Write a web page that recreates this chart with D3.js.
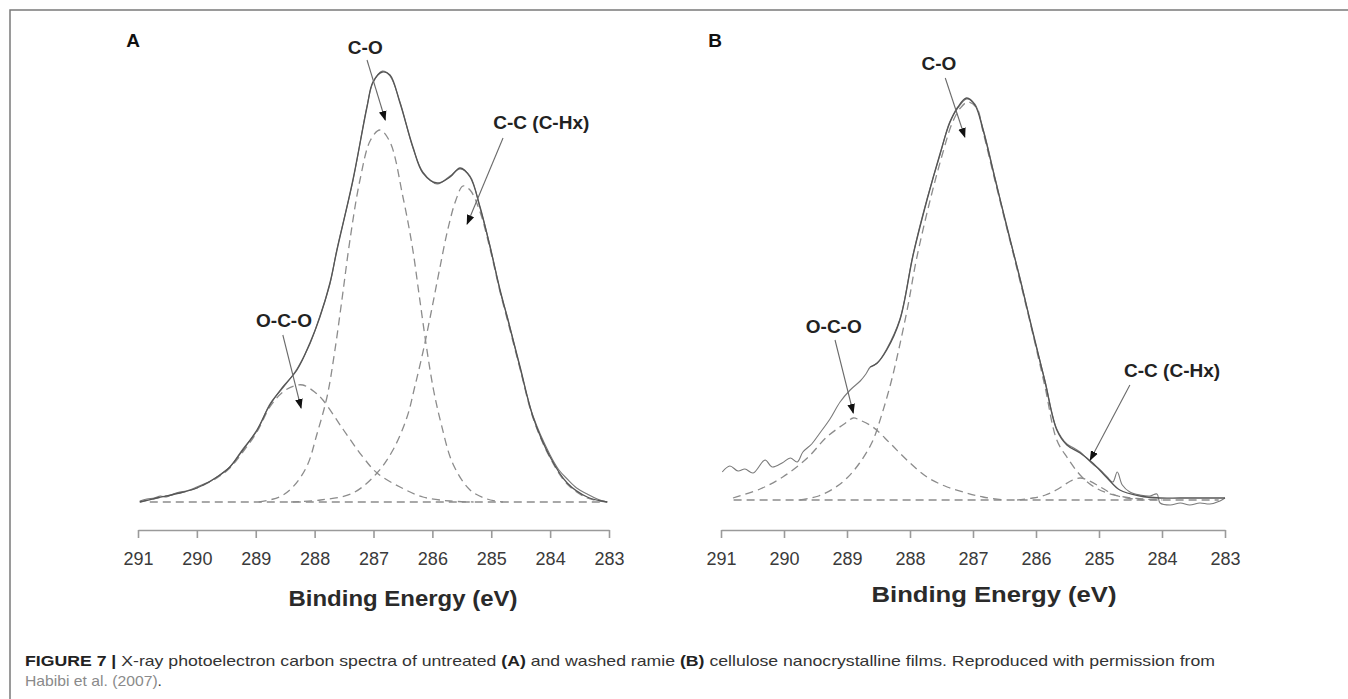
<!DOCTYPE html>
<html>
<head>
<meta charset="utf-8">
<script src="https://cdn.jsdelivr.net/npm/d3@7"></script>
<style>
  body { margin: 0; background: #fff; }
  svg { display: block; font-family: "Liberation Sans", Arial, Helvetica, sans-serif; }
</style>
</head>
<body>
<svg id="fig" width="1348" height="699"></svg>
<script>
// ---- Binding energy axis (eV) ----
const energyTicks = [291, 290, 289, 288, 287, 286, 285, 284, 283];

// ---- Panel A: untreated ramie, C1s spectrum [binding energy (eV), intensity (a.u.)] ----
const aRaw = [
  [290.97, 1], [290.85, 3], [290.72, 4], [290.62, 6], [290.52, 5], [290.40, 8], [290.29, 10],
  [290.18, 11], [290.08, 13], [290.0, 15], [289.88, 18], [289.76, 21], [289.66, 25], [289.44, 35],
  [289.22, 53], [288.98, 71], [288.76, 98], [288.54, 114], [288.30, 133], [288.08, 158], [287.91, 186],
  [287.74, 218], [287.62, 253], [287.35, 321], [287.11, 396], [287.01, 419], [286.85, 431], [286.72, 426],
  [286.55, 400], [286.33, 354], [286.16, 330], [285.92, 318], [285.70, 326], [285.53, 333], [285.36, 326],
  [285.19, 294], [285.02, 256], [284.85, 211], [284.73, 186], [284.51, 134], [284.29, 86], [284.0, 47],
  [283.85, 32], [283.71, 23], [283.55, 14], [283.37, 8], [283.2, 3], [283.03, 0]
];
const aEnvelope = [
  [290.97, 0], [290.68, 4], [290.29, 9], [290.0, 14], [289.66, 25], [289.44, 35], [289.22, 52],
  [288.98, 72], [288.76, 97], [288.54, 115], [288.30, 132], [288.08, 159], [287.91, 185], [287.74, 219],
  [287.62, 252], [287.35, 322], [287.11, 395], [287.01, 420], [286.85, 430], [286.72, 427], [286.55, 399],
  [286.33, 355], [286.16, 329], [285.92, 319], [285.70, 325], [285.53, 334], [285.36, 325], [285.19, 295],
  [285.02, 255], [284.85, 212], [284.73, 185], [284.51, 135], [284.29, 85], [284.0, 45], [283.71, 19],
  [283.37, 5], [283.03, 0]
];
const aOCO = [
  [290.97, 0], [290.68, 4], [290.29, 9], [290.0, 14], [289.66, 24], [289.44, 34], [289.22, 50],
  [288.98, 70], [288.76, 95], [288.54, 110], [288.35, 116], [288.20, 117], [288.0, 110], [287.86, 102],
  [287.52, 73], [287.18, 45], [286.94, 29], [286.55, 15], [286.16, 5], [285.70, 1], [285.3, 0]
];
const aCO = [
  [288.95, 0], [288.6, 5], [288.37, 15], [288.13, 36], [287.96, 68], [287.79, 105], [287.66, 150],
  [287.53, 205], [287.40, 262], [287.23, 322], [287.05, 362], [286.89, 372], [286.72, 360], [286.50, 305],
  [286.34, 255], [286.22, 205], [286.10, 155], [285.98, 112], [285.85, 78], [285.65, 38], [285.36, 12],
  [285.07, 3], [284.8, 0]
];
const aCC = [
  [288.4, 0], [287.9, 2], [287.35, 9], [286.94, 29], [286.67, 52], [286.43, 85], [286.30, 115],
  [286.16, 150], [286.02, 190], [285.88, 232], [285.74, 272], [285.60, 302], [285.48, 316], [285.36, 312],
  [285.19, 290], [285.02, 253], [284.85, 210], [284.73, 183], [284.51, 133], [284.29, 84], [284.0, 44],
  [283.71, 18], [283.37, 4], [283.03, 0]
];
const aBaseline = [[290.8, 0], [283.1, 0]];

// ---- Panel B: washed ramie, C1s spectrum ----
const bRaw = [
  [290.98, 28], [290.86, 34], [290.73, 29], [290.62, 31], [290.49, 27], [290.30, 40], [290.19, 33],
  [290.03, 37], [289.90, 42], [289.79, 38], [289.70, 48], [289.56, 56], [289.43, 67], [289.27, 81],
  [289.11, 98], [288.95, 110], [288.79, 119], [288.70, 126], [288.63, 133], [288.52, 137], [288.37, 151],
  [288.16, 181], [287.95, 246], [287.73, 301], [287.52, 346], [287.37, 378], [287.24, 392], [287.10, 401],
  [286.97, 396], [286.84, 371], [286.65, 322], [286.46, 272], [286.25, 221], [286.05, 167], [285.86, 120],
  [285.67, 71], [285.51, 56], [285.40, 52], [285.30, 48], [285.20, 42], [285.10, 36], [284.98, 30],
  [284.87, 23], [284.78, 18], [284.71, 28], [284.63, 15], [284.51, 8], [284.35, 5], [284.19, 4],
  [284.08, 6], [284.03, -3], [283.87, -5], [283.71, -3], [283.56, -5], [283.40, -3], [283.24, -4],
  [283.08, -1], [283.0, 2]
];
const bEnvelope = [
  [288.63, 133], [288.52, 137], [288.37, 150],
  [288.16, 180], [287.95, 245], [287.73, 300], [287.52, 347], [287.37, 377], [287.24, 393], [287.10, 402],
  [286.97, 395], [286.84, 370], [286.65, 321], [286.46, 273], [286.25, 220], [286.05, 168], [285.86, 119],
  [285.67, 70], [285.51, 55], [285.30, 47], [285.10, 37], [284.87, 22], [284.67, 10], [284.35, 4],
  [284.03, 2], [283.71, 2], [283.0, 2]
];
const bOCO = [
  [290.81, 2], [290.38, 11], [290.02, 23], [289.63, 42], [289.32, 63], [289.0, 78], [288.9, 82],
  [288.80, 80], [288.59, 73], [288.32, 57], [288.05, 40], [287.73, 23], [287.41, 13], [287.10, 7],
  [286.84, 3], [286.5, 0]
];
const bCO = [
  [289.75, 0], [289.45, 4], [289.2, 12], [289.0, 22], [288.8, 37], [288.6, 58], [288.45, 85],
  [288.3, 118], [288.18, 150], [288.03, 195], [287.9, 240], [287.68, 300], [287.48, 347], [287.33, 377],
  [287.2, 392], [287.08, 398], [286.94, 392], [286.84, 368], [286.65, 319], [286.46, 271], [286.25, 218],
  [286.05, 166], [285.86, 114], [285.67, 60], [285.5, 42], [285.3, 25], [285.1, 14], [284.87, 7],
  [284.6, 3], [284.3, 1], [284.0, 0]
];
const bCC = [
  [286.3, 0], [286.05, 2], [285.85, 5], [285.65, 11], [285.45, 19], [285.3, 22], [285.15, 19],
  [284.95, 12], [284.75, 5], [284.55, 2], [284.3, 0]
];
const bBaseline = [[290.8, 0], [283.1, 0]];

// ---- Peak assignments: label, arrow tail and arrow tip in [eV, intensity] ----
const aLabels = ["C-O", "C-C (C-Hx)", "O-C-O"];
const aLabelAt = [[287.14, 455], [284.15, 380], [288.52, 182]];
const aTailAt  = [[287.11, 442], [284.80, 364], [288.54, 167]];
const aTipAt   = [[286.80, 382], [285.41, 278], [288.23, 94]];

const bLabels = ["C-O", "O-C-O", "C-C (C-Hx)"];
const bLabelAt = [[287.54, 437], [289.21, 174], [283.84, 130]];
const bTailAt  = [[287.44, 422], [289.19, 160], [284.51, 115]];
const bTipAt   = [[287.13, 363], [288.90, 87], [285.14, 40]];

// ---- Figure caption ----
const captionLine1 = [
  { t: "FIGURE 7 | ", bold: true },
  { t: "X-ray photoelectron carbon spectra of untreated ", bold: false },
  { t: "(A)", bold: true },
  { t: " and washed ramie ", bold: false },
  { t: "(B)", bold: true },
  { t: " cellulose nanocrystalline films. Reproduced with permission from", bold: false }
];
const captionLine2 = "Habibi et al. (2007)";

// ================= drawing =================
const svg = d3.select("#fig");
svg.append("rect").attr("width", 1348).attr("height", 699).attr("fill", "#fff");

// frame (top and left rules)
svg.append("path")
  .attr("d", "M10,699 V10 H1348")
  .attr("fill", "none").attr("stroke", "#7a7a7a").attr("stroke-width", 1.5);

// arrowhead
svg.append("defs").append("marker")
  .attr("id", "head").attr("viewBox", "0 0 10 10")
  .attr("refX", 9).attr("refY", 5)
  .attr("markerWidth", 10).attr("markerHeight", 10)
  .attr("markerUnits", "userSpaceOnUse")
  .attr("orient", "auto")
  .append("path").attr("d", "M0,1.2 L10,5 L0,8.8 Z").attr("fill", "#111");

const panels = [
  {
    letter: "A", letterX: 133, x0: 138, x1: 609, yBase: 502, yTop: 72, iTop: 430,
    axisY: 530, titleX: 403, titleY: 598, titleW: 229,
    raw: aRaw, env: aEnvelope, comps: [aOCO, aCO, aCC], baseline: aBaseline,
    labels: aLabels, labelAt: aLabelAt, tailAt: aTailAt, tipAt: aTipAt
  },
  {
    letter: "B", letterX: 715, x0: 721, x1: 1225, yBase: 500, yTop: 98, iTop: 402,
    axisY: 530, titleX: 994, titleY: 594, titleW: 245,
    raw: bRaw, env: bEnvelope, comps: [bOCO, bCO, bCC], baseline: bBaseline,
    labels: bLabels, labelAt: bLabelAt, tailAt: bTailAt, tipAt: bTipAt
  }
];

panels.forEach(p => {
  const x = d3.scaleLinear().domain([291, 283]).range([p.x0, p.x1]);
  const y = d3.scaleLinear().domain([0, p.iTop]).range([p.yBase, p.yTop]);
  const g = svg.append("g");

  const smooth = d3.line().x(d => x(d[0])).y(d => y(d[1])).curve(d3.curveCatmullRom.alpha(0.5));

  // background line and fitted components (dashed)
  g.append("path").datum(p.baseline).attr("d", smooth)
    .attr("fill", "none").attr("stroke", "#8c8c8c").attr("stroke-width", 1.3)
    .attr("stroke-dasharray", "8,5");
  p.comps.forEach(c => {
    g.append("path").datum(c).attr("d", smooth)
      .attr("fill", "none").attr("stroke", "#8c8c8c").attr("stroke-width", 1.3)
      .attr("stroke-dasharray", "8,5");
  });

  // measured spectrum and fitted envelope
  g.append("path").datum(p.raw).attr("d", smooth)
    .attr("fill", "none").attr("stroke", "#7a7a7a").attr("stroke-width", 1.1);
  g.append("path").datum(p.env).attr("d", smooth)
    .attr("fill", "none").attr("stroke", "#555").attr("stroke-width", 1.3);

  // axis
  const axis = d3.axisBottom(x).tickValues(energyTicks).tickSize(8).tickSizeOuter(0).tickPadding(14)
    .tickFormat(d3.format("d"));
  const ax = g.append("g").attr("transform", `translate(0,${p.axisY})`).call(axis);
  ax.select(".domain").attr("stroke", "#9a9a9a").attr("stroke-width", 1.6);
  ax.selectAll(".tick line").attr("stroke", "#9a9a9a").attr("stroke-width", 1.6);
  ax.selectAll(".tick text").attr("fill", "#3a3a3a")
    .style("font-size", "18px").style("font-family", "'Liberation Sans', Arial, sans-serif");

  g.append("text").text("Binding Energy (eV)")
    .attr("x", p.titleX).attr("y", p.titleY).attr("dy", "0.36em")
    .attr("text-anchor", "middle").attr("font-weight", "bold").attr("font-size", 22)
    .attr("fill", "#2a2a2a")
    .attr("textLength", p.titleW).attr("lengthAdjust", "spacingAndGlyphs");

  // panel letter
  svg.append("text").text(p.letter)
    .attr("x", p.letterX).attr("y", 40).attr("dy", "0.36em")
    .attr("text-anchor", "middle").attr("font-weight", "bold").attr("font-size", 19)
    .attr("fill", "#111");

  // peak assignments
  p.labels.forEach((lab, i) => {
    g.append("text").text(lab)
      .attr("x", x(p.labelAt[i][0])).attr("y", y(p.labelAt[i][1])).attr("dy", "0.36em")
      .attr("text-anchor", "middle").attr("font-weight", "bold").attr("font-size", 19)
      .attr("fill", "#222");
    g.append("line")
      .attr("x1", x(p.tailAt[i][0])).attr("y1", y(p.tailAt[i][1]))
      .attr("x2", x(p.tipAt[i][0])).attr("y2", y(p.tipAt[i][1]))
      .attr("stroke", "#6a6a6a").attr("stroke-width", 1.1)
      .attr("marker-end", "url(#head)");
  });
});

// caption
const cap1 = svg.append("text").attr("x", 25).attr("y", 666)
  .attr("font-size", 15).attr("fill", "#333");
captionLine1.forEach(s => {
  cap1.append("tspan").text(s.t)
    .attr("font-weight", s.bold ? "bold" : "normal")
    .attr("fill", s.bold ? "#222" : "#333");
});
cap1.attr("textLength", 1190).attr("lengthAdjust", "spacingAndGlyphs");

const cap2 = svg.append("text").attr("x", 25).attr("y", 686).attr("font-size", 15);
cap2.append("tspan").text(captionLine2).attr("fill", "#8a8a8a");
cap2.append("tspan").text(".").attr("fill", "#333");
cap2.attr("textLength", 137).attr("lengthAdjust", "spacingAndGlyphs");
</script>
</body>
</html>
